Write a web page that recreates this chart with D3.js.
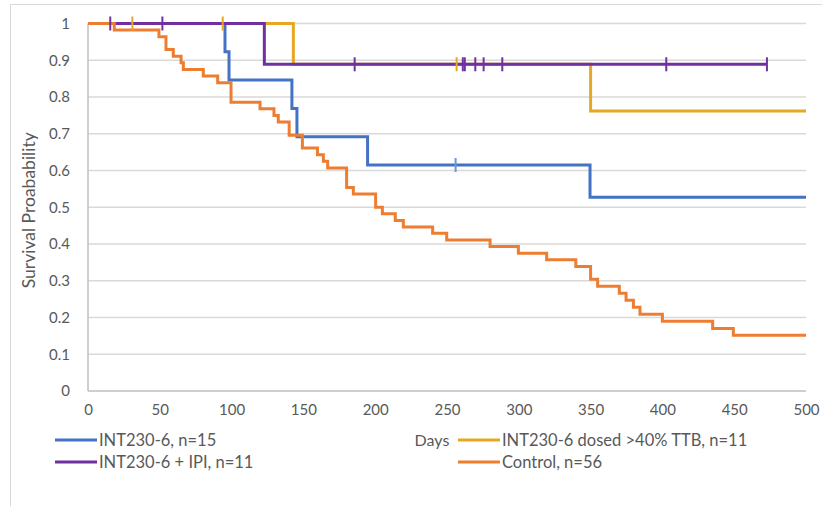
<!DOCTYPE html>
<html><head><meta charset="utf-8">
<script src="https://cdn.jsdelivr.net/npm/d3@7"></script>
<style>body{margin:0;background:#fff;} text{font-family:Lato,"Open Sans",sans-serif;fill:#595959;}</style>
</head><body><svg id="c" width="822" height="516"></svg>
<script>
// ---- data ----
const xTicks = [0, 50, 100, 150, 200, 250, 300, 350, 400, 450, 500];
const yTicks = [0, 0.1, 0.2, 0.3, 0.4, 0.5, 0.6, 0.7, 0.8, 0.9, 1];
const seriesNames = ["INT230-6, n=15", "INT230-6 dosed >40% TTB, n=11", "INT230-6 + IPI, n=11", "Control, n=56"];
const seriesColors = ["#4472C4", "#E6A823", "#7030A0", "#ED7D31"];

const blueTimes = [0, 95.4, 98.2, 142, 145.5, 194.7, 349.6, 500];
const blueSurv  = [1, 0.923, 0.846, 0.769, 0.692, 0.615, 0.527, 0.527];
const blueCensor = [256];

const yellowTimes = [0, 143, 350, 500];
const yellowSurv  = [1, 0.889, 0.762, 0.762];
const yellowCensor = [30.9, 93.8, 256.7];

const purpleTimes = [0, 122.8, 472.8];
const purpleSurv  = [1, 0.889, 0.889];
const purpleCensor = [15.5, 51.8, 185.7, 261, 262.4, 269.7, 275.5, 288.5, 402.7, 472.8];

const controlTimes = [0, 18.3, 49.4, 54.3, 59.4, 64.8, 66.4, 80.3, 90.3, 99.6, 119.8, 129.5, 132.5, 140.1, 149.3, 159.8, 163.9, 166.9, 180.1, 184.8, 200.3, 205, 214, 219.6, 240, 249.8, 280, 299.7, 319.4, 339.7, 350, 354.9, 370, 374.7, 379.8, 384.4, 400, 435, 449.4, 500];
const controlSurv  = [1, 0.982, 0.964, 0.929, 0.911, 0.893, 0.875, 0.857, 0.839, 0.786, 0.768, 0.75, 0.732, 0.696, 0.661, 0.643, 0.625, 0.607, 0.554, 0.536, 0.5, 0.482, 0.464, 0.446, 0.429, 0.411, 0.393, 0.375, 0.357, 0.339, 0.304, 0.285, 0.266, 0.247, 0.228, 0.209, 0.19, 0.17, 0.152, 0.152];
const controlCensor = [];

// ---- chart ----
const svg = d3.select("#c");
const x = d3.scaleLinear().domain([0, 500]).range([88, 806]);
const y = d3.scaleLinear().domain([0, 1]).range([391, 23.5]);

// outer border (top & left visible)
svg.append("path").attr("d", "M10.5,506 V4.5 H822").attr("fill", "none").attr("stroke", "#d9d9d9").attr("stroke-width", 1);

// gridlines
svg.append("g").selectAll("line").data(yTicks.filter(d => d > 0)).join("line")
  .attr("x1", x(0)).attr("x2", x(500)).attr("y1", d => y(d)).attr("y2", d => y(d))
  .attr("stroke", "#d9d9d9").attr("stroke-width", 1.3);

// axes lines
svg.append("line").attr("x1", x(0)).attr("x2", x(0)).attr("y1", y(0)).attr("y2", y(1)).attr("stroke", "#bfbfbf").attr("stroke-width", 1.5);
svg.append("line").attr("x1", x(0)).attr("x2", x(500)).attr("y1", y(0)).attr("y2", y(0)).attr("stroke", "#bfbfbf").attr("stroke-width", 1.5);

// tick labels
const yAxis = d3.axisLeft(y).tickValues(yTicks).tickSize(0).tickPadding(18).tickFormat(d => d3.format("~g")(d));
const gy = svg.append("g").attr("transform", `translate(${x(0)},0)`).call(yAxis);
gy.select(".domain").remove();
gy.selectAll("text").attr("font-size", 15).style("font-family", "Lato");

const xAxis = d3.axisBottom(x).tickValues(xTicks).tickSize(0).tickPadding(13);
const gx = svg.append("g").attr("transform", `translate(0,${y(0)})`).call(xAxis);
gx.select(".domain").remove();
gx.selectAll("text").attr("font-size", 15).style("font-family", "Lato");

// y title
svg.append("text").attr("transform", `translate(35,${(y(0)+y(1))/2 + 3}) rotate(-90)`)
  .attr("text-anchor", "middle").attr("font-size", 17.5).text("Survival Proabability");

// curves
const series = [
  {t: blueTimes, s: blueSurv, c: blueCensor},
  {t: yellowTimes, s: yellowSurv, c: yellowCensor},
  {t: purpleTimes, s: purpleSurv, c: purpleCensor},
  {t: controlTimes, s: controlSurv, c: controlCensor}
];
const line = d3.line().x(d => x(d[0])).y(d => y(d[1])).curve(d3.curveStepAfter);
series.forEach((sr, i) => {
  const pts = sr.t.map((t, k) => [t, sr.s[k]]);
  svg.append("path").datum(pts).attr("d", line).attr("fill", "none")
    .attr("stroke", seriesColors[i]).attr("stroke-width", 3);
});
// censor marks
function survAt(sr, t) {
  let v = sr.s[0];
  for (let k = 0; k < sr.t.length; k++) if (sr.t[k] <= t) v = sr.s[k];
  return v;
}
series.forEach((sr, i) => {
  svg.append("g").selectAll("line").data(sr.c).join("line")
    .attr("x1", d => x(d)).attr("x2", d => x(d))
    .attr("y1", d => y(survAt(sr, d)) - 7).attr("y2", d => y(survAt(sr, d)) + 7)
    .attr("stroke", i === 0 ? "#6f97d8" : seriesColors[i]).attr("stroke-width", 2);
});

// legend
const legPos = [[55, 440], [458, 440], [55, 462], [458, 462]];
seriesNames.forEach((nm, i) => {
  const [lx, ly] = legPos[i];
  svg.append("line").attr("x1", lx).attr("x2", lx + 42).attr("y1", ly).attr("y2", ly)
    .attr("stroke", seriesColors[i]).attr("stroke-width", 3);
  svg.append("text").attr("x", lx + 44).attr("y", ly).attr("dy", "0.35em")
    .attr("font-size", 16.5).text(nm);
});
svg.append("text").attr("x", 432).attr("y", 440).attr("dy", "0.35em").attr("text-anchor", "middle")
  .attr("font-size", 16).text("Days");
</script></body></html>
